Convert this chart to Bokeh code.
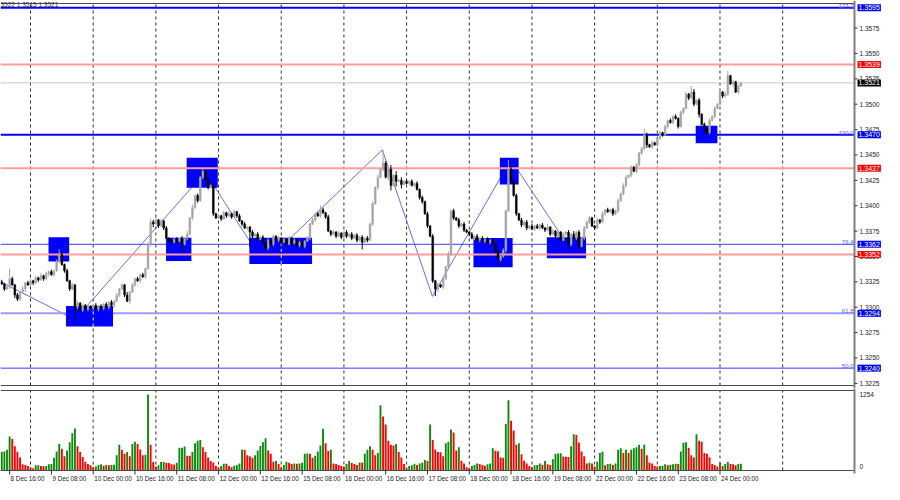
import numpy as np
from bokeh.plotting import figure
from bokeh.models import Range1d, Label
from bokeh.layouts import column
from bokeh.embed import file_html
from bokeh.resources import INLINE
from bokeh.core.properties import value

# ---------------- DATA ----------------
# Hourly closes per trading day, in pips (3323 -> 1.3323). Bar 0 = 8 Dec 13:00
open_first = 3325
close_dec08 = [3323, 3318, 3320, 3328, 3322, 3312, 3308, 3315, 3318, 3324, 3322]
close_dec09 = [3326, 3324, 3329, 3327, 3331, 3328, 3333, 3335, 3332, 3336, 3345, 3352,
               3342, 3336, 3326, 3318, 3322, 3300, 3304, 3297, 3302, 3298, 3301, 3299]
close_dec10 = [3302, 3298, 3301, 3299, 3303, 3300, 3305, 3302, 3306, 3312, 3318, 3322,
               3312, 3306, 3315, 3322, 3328, 3326, 3332, 3330, 3338, 3362, 3384, 3382]
close_dec11 = [3386, 3380, 3385, 3378, 3368, 3366, 3364, 3367, 3365, 3368, 3362, 3368,
               3372, 3388, 3398, 3410, 3405, 3428, 3434, 3426, 3418, 3420, 3392, 3388]
close_dec12 = [3390, 3387, 3393, 3390, 3392, 3389, 3394, 3390, 3385, 3382, 3378, 3379,
               3374, 3370, 3372, 3367, 3369, 3364, 3358, 3366, 3362, 3370, 3366, 3368]
close_dec15 = [3364, 3367, 3362, 3368, 3363, 3366, 3361, 3364, 3360, 3365, 3368, 3382,
               3386, 3392, 3390, 3396, 3393, 3389, 3375, 3372, 3374, 3370, 3373, 3369]
close_dec16 = [3374, 3370, 3372, 3368, 3371, 3366, 3369, 3364, 3368, 3366, 3382, 3402,
               3418, 3428, 3436, 3442, 3428, 3436, 3420, 3430, 3424, 3425, 3421, 3424]
close_dec17 = [3422, 3424, 3420, 3422, 3416, 3408, 3404, 3392, 3380, 3370, 3326, 3318,
               3322, 3320, 3328, 3340, 3352, 3395, 3388, 3386, 3380, 3382, 3376, 3374]
close_dec18 = [3372, 3368, 3370, 3366, 3368, 3365, 3367, 3364, 3366, 3362, 3355, 3347,
               3350, 3356, 3395, 3436, 3424, 3410, 3392, 3386, 3381, 3384, 3378, 3380]
close_dec19 = [3377, 3380, 3378, 3381, 3378, 3376, 3379, 3372, 3375, 3370, 3374, 3366,
               3372, 3374, 3362, 3372, 3368, 3374, 3360, 3368, 3378, 3384, 3388, 3380]
close_dec22 = [3378, 3386, 3384, 3392, 3396, 3394, 3396, 3392, 3395, 3405, 3412, 3420,
               3428, 3430, 3438, 3434, 3440, 3452, 3456, 3470, 3460, 3458, 3462, 3460]
close_dec23 = [3466, 3472, 3470, 3478, 3484, 3482, 3488, 3486, 3478, 3492, 3496, 3510,
               3506, 3512, 3500, 3504, 3490, 3480, 3476, 3472, 3484, 3488, 3496, 3500]
close_dec24 = [3512, 3508, 3510, 3528, 3520, 3522, 3512, 3518, 3521]

# Wick lengths in pips beyond the body (one base-36 digit per bar)
wick_up = ["213a21 21312",
           "212131 212125 212121 212121",
           "121212 121212 131212 121232",
           "212121 212121 313121 212121",
           "212131 212121 121212 131212",
           "121212 212121 212421 212121",
           "121212 121212 131d21 414131",
           "212121 212121 212131 212121",
           "121212 121212 121921 212121",
           "212121 312121 212131 212121",
           "121212 121212 212121 262121",
           "121212 121212 163121 212121",
           "212512 121"]
wick_dn = ["121213 22131",
           "121212 131212 12121c 212121",
           "212121 212121 213121 212123",
           "121212 212171 212121 212121",
           "121212 121212 f21212 121212",
           "212121 121212 121212 121212",
           "121212 171212 121213 515141",
           "121212 212127 312121 212121",
           "212121 212127 212121 212121",
           "121212 121212 125212 312121",
           "212121 121212 212121 213121",
           "212121 212121 212131 512121",
           "121213 121"]

# Tick volume per hour
vol_dec08 = [304, 314, 341, 560, 517, 400, 309, 213, 101, 91, 75]
vol_dec09 = [48, 37, 85, 88, 75, 72, 75, 101, 107, 208, 314, 437,
             357, 235, 330, 464, 613, 693, 400, 304, 224, 144, 107, 85]
vol_dec10 = [53, 64, 91, 101, 80, 91, 85, 91, 93, 251, 426, 341,
             277, 304, 235, 437, 474, 437, 346, 251, 258, 1254, 426, 139]
vol_dec11 = [64, 85, 139, 141, 128, 125, 101, 98, 128, 373, 375, 394,
             245, 242, 304, 448, 490, 501, 384, 304, 213, 155, 133, 75]
vol_dec12 = [48, 75, 112, 110, 75, 53, 80, 91, 117, 341, 338, 251,
             235, 208, 251, 330, 405, 464, 533, 330, 277, 144, 155, 107]
vol_dec15 = [53, 91, 144, 128, 107, 117, 112, 117, 128, 277, 279, 276,
             208, 245, 314, 410, 688, 448, 320, 341, 117, 107, 91, 75]
vol_dec16 = [64, 107, 155, 123, 107, 91, 133, 130, 277, 341, 400, 341,
             251, 288, 1077, 890, 757, 490, 426, 410, 437, 304, 213, 107]
vol_dec17 = [37, 75, 85, 112, 91, 117, 128, 171, 155, 757, 501, 346,
             304, 300, 235, 448, 474, 677, 624, 330, 384, 160, 117, 53]
vol_dec18 = [37, 75, 91, 117, 107, 91, 80, 101, 117, 368, 325, 318,
             213, 210, 768, 1157, 821, 661, 426, 448, 266, 160, 117, 75]
vol_dec19 = [53, 85, 91, 117, 96, 155, 101, 91, 187, 277, 280, 285,
             229, 226, 224, 400, 597, 586, 458, 314, 235, 117, 128, 117]
vol_dec22 = [64, 144, 288, 309, 85, 107, 110, 91, 117, 341, 368, 288,
             341, 293, 341, 368, 384, 426, 357, 426, 251, 133, 117, 75]
vol_dec23 = [64, 75, 80, 101, 85, 96, 101, 112, 107, 314, 458, 464,
             373, 251, 213, 597, 490, 474, 288, 277, 219, 107, 91, 64]
vol_dec24 = [128, 75, 107, 139, 107, 104, 85, 107, 110]
vol_max_label = 1254

# time axis (bar index)
date_tick_bars = [3, 19, 35, 51, 67, 83, 99, 115, 131, 147, 163, 179, 195, 211, 227, 243, 259, 275]
date_tick_labels = ["8 Dec 16:00", "9 Dec 08:00", "10 Dec 00:00", "10 Dec 16:00", "11 Dec 08:00",
                    "12 Dec 00:00", "12 Dec 16:00", "15 Dec 08:00", "16 Dec 00:00", "16 Dec 16:00",
                    "17 Dec 08:00", "18 Dec 00:00", "18 Dec 16:00", "19 Dec 08:00", "22 Dec 00:00",
                    "22 Dec 16:00", "23 Dec 08:00", "24 Dec 00:00"]
day_start_bars = [11, 35, 59, 83, 107, 131, 155, 179, 203, 227, 251, 275, 299]
price_ticks = [1.3225, 1.3250, 1.3275, 1.3300, 1.3325, 1.3350, 1.3375, 1.3400,
               1.3425, 1.3450, 1.3475, 1.3500, 1.3525, 1.3550, 1.3575]

# Fibonacci levels (blue) and support/resistance levels (red)
fib_levels = [1.3595, 1.3470, 1.3362, 1.3294, 1.3240]
fib_names = ["127.2", "100.0", "76.4", "61.8", "50.0"]
fib_colors = ["#0000ff", "#0000ff", "#3a3aff", "#9c9cff", "#3a3aff"]
fib_widths = [2, 2, 1, 2, 1]
red_levels = [1.3539, 1.3437, 1.3352]
last_price = 1.3521

# zigzag swing points (bar index, price)
zz_bars = [-0.5, 28.0, 77.9, 100.4, 145.7, 164.9, 194.9, 218.9]
zz_prices = [1.33251, 1.32878, 1.34330, 1.33432, 1.34550, 1.33107, 1.34454, 1.33528]

# blue rectangles (bar range, price range)
box_left = [17.9, 24.6, 62.9, 70.8, 94.8, 180.6, 190.7, 208.7, 265.7]
box_right = [25.8, 42.6, 72.6, 82.7, 118.8, 195.6, 197.9, 223.7, 274.0]
box_top = [1.33690, 1.33012, 1.33685, 1.34473, 1.33685, 1.33683, 1.34473, 1.33690, 1.34788]
box_bottom = [1.33451, 1.32811, 1.33456, 1.34177, 1.33427, 1.33394, 1.34209, 1.33483, 1.34616]

header_text = "3522 1.3515 1.3521"

# ---------------- BUILD ----------------
closes_p = np.array(close_dec08 + close_dec09 + close_dec10 + close_dec11 + close_dec12 +
                    close_dec15 + close_dec16 + close_dec17 + close_dec18 + close_dec19 +
                    close_dec22 + close_dec23 + close_dec24, dtype=float)
opens_p = np.concatenate([[open_first], closes_p[:-1]])
up = np.array([int(ch, 36) for ch in "".join(wick_up).replace(" ", "")], dtype=float)
dn = np.array([int(ch, 36) for ch in "".join(wick_dn).replace(" ", "")], dtype=float)
highs_p = np.maximum(opens_p, closes_p) + up
lows_p = np.minimum(opens_p, closes_p) - dn

o = 1 + opens_p / 10000
c = 1 + closes_p / 10000
h = 1 + highs_p / 10000
l = 1 + lows_p / 10000
t = np.arange(len(c))

vols = np.array(vol_dec08 + vol_dec09 + vol_dec10 + vol_dec11 + vol_dec12 + vol_dec15 +
                vol_dec16 + vol_dec17 + vol_dec18 + vol_dec19 + vol_dec22 + vol_dec23 +
                vol_dec24, dtype=float)
vcol = ["#0a8a0a" if (i == 0 or vols[i] > vols[i - 1]) else "#ff0000" for i in range(len(vols))]

# geometry
W = 884
DATA_W = 854                 # pixel width of the plotting area (left of the price scale)
X_START = -0.49
X_AX = 326.5                 # bar position of the price-scale line
KP = DATA_W / (X_AX - X_START)
X_END = X_START + W / KP
PH, PFH, PTOP_M = 388, 382, 3
P_BOT, P_TOP = 1.32229, 1.35992
PPX = (P_TOP - P_BOT) / PFH
VH, VFH, VTOP_M = 96, 80, 2
V_TOP = 1318
VPX = V_TOP / VFH
FONT = "Liberation Sans"
GRID = "#303030"
BORDER = "#4a4a4a"
SCALE = "#808080"

xr = Range1d(X_START, X_END)

def base_fig(height, yr):
    f = figure(width=W, height=height, x_range=xr, y_range=yr,
               x_axis_location=None, y_axis_location=None, output_backend="svg",
               toolbar_location=None, min_border=0, min_border_left=0, min_border_right=0,
               min_border_top=0, min_border_bottom=0, outline_line_color=None,
               background_fill_color="white", border_fill_color="white")
    f.xgrid.visible = False
    f.ygrid.visible = False
    return f

# ---------- price panel ----------
p = base_fig(PH, Range1d(P_BOT - (PH - PFH - PTOP_M) * PPX, P_TOP + PTOP_M * PPX))

p.segment(x0=day_start_bars, y0=P_BOT, x1=day_start_bars, y1=P_TOP,
          line_color=GRID, line_dash="3 3", line_width=1)
p.line(zz_bars, zz_prices, line_color="#6b6bff", line_width=1)
p.segment(x0=X_START, y0=fib_levels, x1=X_AX, y1=fib_levels,
          line_color=fib_colors, line_width=fib_widths)
p.quad(left=box_left, right=box_right, top=box_top, bottom=box_bottom,
       fill_color="#0000ff", line_color=None)

# grid lines show through the rectangles in yellow (XOR drawing)
gx, gy0, gy1 = [], [], []
for bl, br, bt, bb in zip(box_left, box_right, box_top, box_bottom):
    for d in day_start_bars:
        if bl < d < br:
            gx.append(d); gy0.append(bb); gy1.append(bt)
if gx:
    p.segment(x0=gx, y0=gy0, x1=gx, y1=gy1, line_color="#ffff00", line_dash="3 3", line_width=1)

p.segment(x0=X_START, y0=red_levels, x1=X_AX, y1=red_levels, line_color="#ff9c9c", line_width=2)
p.segment(x0=X_START, y0=[last_price], x1=X_AX, y1=[last_price], line_color="#c8c8c8", line_width=1)

bull = c >= o
bear = ~bull
for mask, col in ((bull, "#a6a6a6"), (bear, "#000000")):
    p.segment(x0=t[mask], y0=h[mask], x1=t[mask], y1=l[mask], line_color=col, line_width=1)
    p.vbar(x=t[mask], width=0.68, top=np.maximum(o, c)[mask], bottom=np.minimum(o, c)[mask],
           fill_color=col, line_color=col, line_width=0.5)

# borders and price scale
p.segment(x0=X_START, y0=[P_TOP, P_BOT], x1=X_AX, y1=[P_TOP, P_BOT], line_color=BORDER, line_width=1)
p.segment(x0=[X_AX], y0=P_BOT - 3 * PPX, x1=X_AX, y1=P_TOP + 3 * PPX, line_color=SCALE, line_width=2)
p.segment(x0=X_AX, y0=price_ticks, x1=X_AX + 3 / KP, y1=price_ticks, line_color="#333333", line_width=1)
p.text(x=X_AX, y=price_ticks, text=["%.4f" % v for v in price_ticks], x_offset=5,
       text_align="left", text_baseline="middle", text_font=value(FONT),
       text_font_size=value("6.5px"), text_color="#222222")

for lvl, name in zip(fib_levels, fib_names):
    p.add_layout(Label(x=X_AX, y=lvl, text=name, text_align="right", text_baseline="bottom",
                       x_offset=-1, y_offset=0, text_font_size="6px", text_font=FONT,
                       text_color="#5a5aff"))

axis_boxes = [(v, "#0000ff") for v in fib_levels] + [(v, "#ff0000") for v in red_levels] + \
             [(last_price, "#000000")]
for lvl, bg in axis_boxes:
    p.add_layout(Label(x=X_AX, y=lvl, x_offset=3, text="%.4f" % lvl,
                       text_align="left", text_baseline="middle", text_font_size="7px",
                       text_font=FONT, text_color="white", background_fill_color=bg,
                       padding=1))

p.add_layout(Label(x=X_START, y=P_TOP, text=header_text, text_align="left",
                   text_baseline="middle", y_offset=-1, text_font_size="6.5px",
                   text_font=FONT, text_color="#333333"))

# ---------- volume panel ----------
pv = base_fig(VH, Range1d(-(VH - VFH - VTOP_M) * VPX, V_TOP + VTOP_M * VPX))
pv.segment(x0=day_start_bars, y0=0, x1=day_start_bars, y1=V_TOP,
           line_color=GRID, line_dash="3 3", line_width=1)
pv.vbar(x=t, width=0.72, top=vols, bottom=0, fill_color=vcol, line_color=None)
pv.segment(x0=X_START, y0=[V_TOP, 0], x1=X_AX, y1=[V_TOP, 0], line_color=BORDER, line_width=1)
pv.segment(x0=[X_AX], y0=-3 * VPX, x1=X_AX, y1=V_TOP + 2 * VPX, line_color=SCALE, line_width=2)
pv.segment(x0=date_tick_bars, y0=0, x1=date_tick_bars, y1=-4 * VPX, line_color="#333333", line_width=1)
pv.text(x=date_tick_bars, y=0, text=date_tick_labels, x_offset=1, y_offset=4,
        text_align="left", text_baseline="top", text_font=value(FONT),
        text_font_size=value("6.3px"), text_color="#222222")
pv.text(x=X_AX, y=[vol_max_label, 0], text=[str(vol_max_label), "0"], x_offset=5,
        y_offset=[0, -4], text_align="left", text_baseline="middle", text_font=value(FONT),
        text_font_size=value("6.5px"), text_color="#222222")

layout = column(p, pv, spacing=0)
open("out.html", "w").write(file_html(layout, INLINE))
